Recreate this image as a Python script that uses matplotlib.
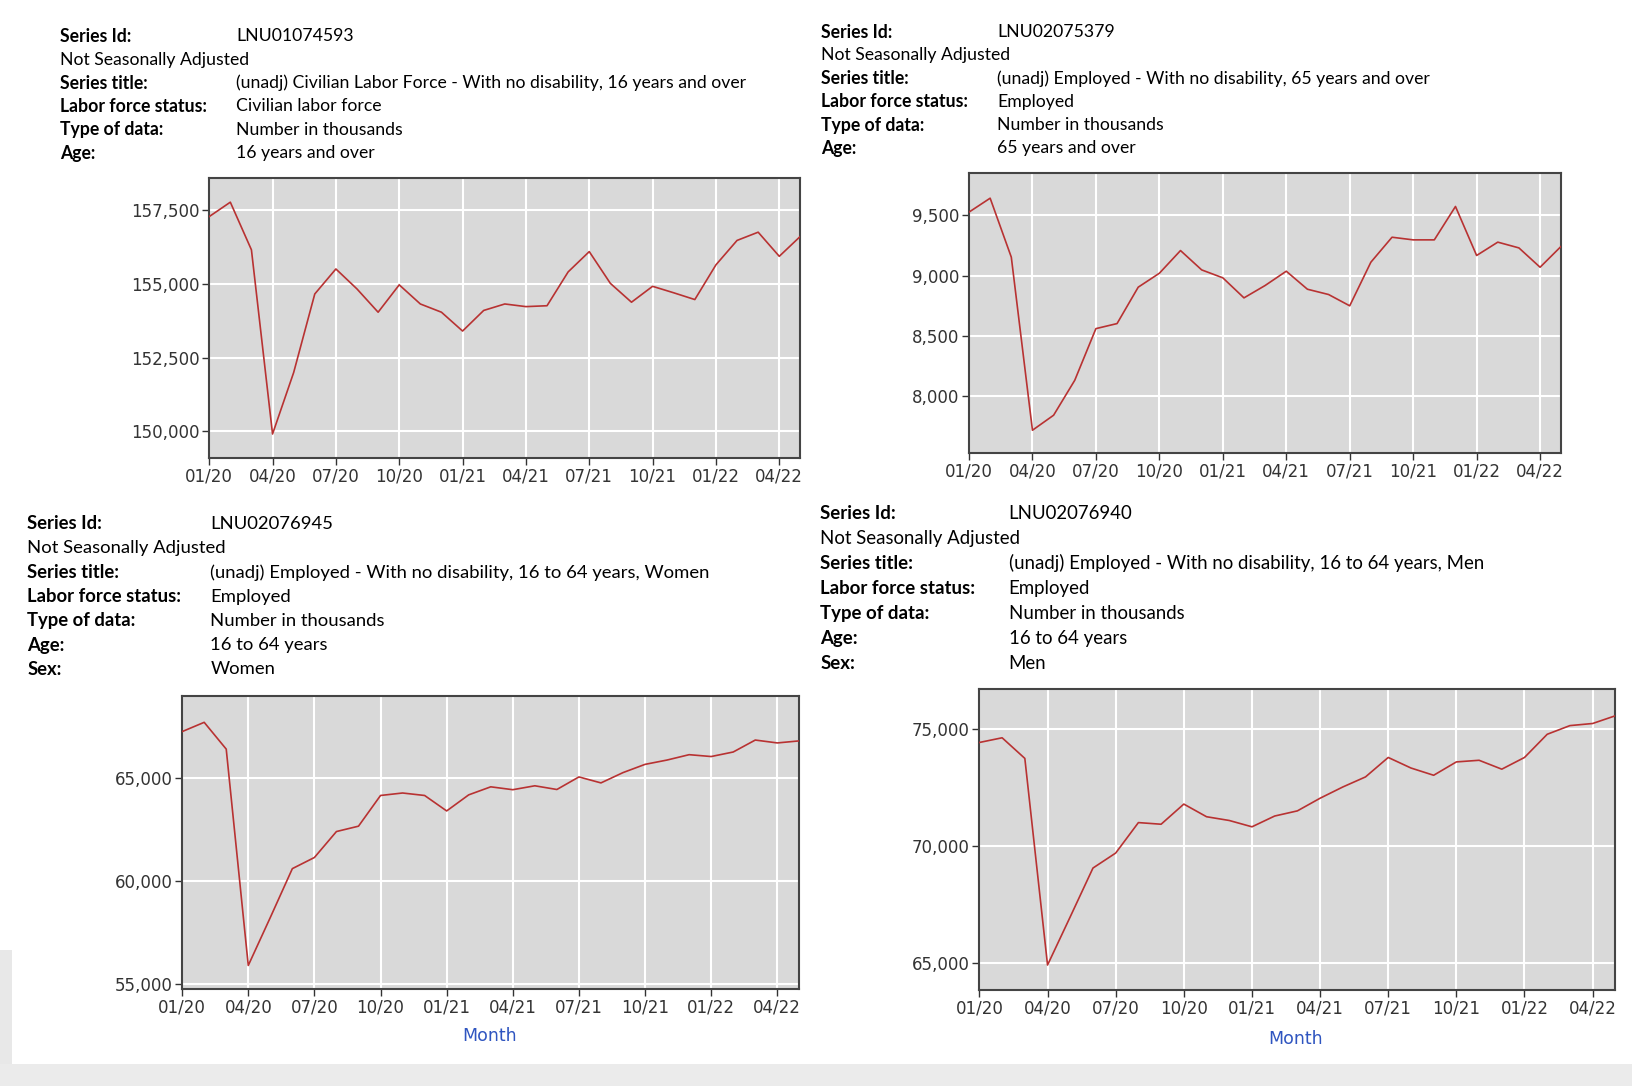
import matplotlib
matplotlib.use('Agg')
import matplotlib.pyplot as plt
from matplotlib.patches import Rectangle

# months Jan 2020 .. May 2022
months = list(range(29))
tick_pos = list(range(0, 28, 3))
tick_labels = ['01/20', '04/20', '07/20', '10/20', '01/21', '04/21',
               '07/21', '10/21', '01/22', '04/22']

# LNU01074593 civilian labor force, no disability, 16+
labor_force = [157290, 157780, 156160, 149900, 151990, 154660, 155510, 154830,
               154040, 154970, 154320, 154040, 153400, 154100, 154320, 154230,
               154260, 155410, 156100, 155020, 154380, 154920, 154700, 154470,
               155650, 156480, 156760, 155940, 156620]

# LNU02075379 employed, no disability, 65+
employed_65 = [9528, 9644, 9153, 7712, 7837, 8128, 8558, 8600, 8903, 9019,
               9208, 9047, 8981, 8814, 8917, 9036, 8886, 8842, 8748, 9111,
               9319, 9297, 9297, 9575, 9167, 9278, 9230, 9069, 9244]

# LNU02076945 employed, no disability, 16-64, women
employed_women = [67250, 67700, 66400, 55900, 58230, 60600, 61140, 62400,
                  62660, 64150, 64270, 64150, 63400, 64180, 64570, 64430,
                  64620, 64440, 65050, 64760, 65260, 65660, 65870, 66130,
                  66040, 66260, 66840, 66700, 66800]

# LNU02076940 employed, no disability, 16-64, men
employed_men = [74420, 74620, 73740, 64920, 66980, 69060, 69700, 71000,
                70930, 71790, 71250, 71090, 70820, 71280, 71500, 72040,
                72520, 72950, 73780, 73330, 73020, 73590, 73660, 73280,
                73780, 74770, 75140, 75230, 75560]

info1 = [('Series Id:', 'LNU01074593'),
         ('Not Seasonally Adjusted', None),
         ('Series title:', '(unadj) Civilian Labor Force - With no disability, 16 years and over'),
         ('Labor force status:', 'Civilian labor force'),
         ('Type of data:', 'Number in thousands'),
         ('Age:', '16 years and over')]
info2 = [('Series Id:', 'LNU02075379'),
         ('Not Seasonally Adjusted', None),
         ('Series title:', '(unadj) Employed - With no disability, 65 years and over'),
         ('Labor force status:', 'Employed'),
         ('Type of data:', 'Number in thousands'),
         ('Age:', '65 years and over')]
info3 = [('Series Id:', 'LNU02076945'),
         ('Not Seasonally Adjusted', None),
         ('Series title:', '(unadj) Employed - With no disability, 16 to 64 years, Women'),
         ('Labor force status:', 'Employed'),
         ('Type of data:', 'Number in thousands'),
         ('Age:', '16 to 64 years'),
         ('Sex:', 'Women')]
info4 = [('Series Id:', 'LNU02076940'),
         ('Not Seasonally Adjusted', None),
         ('Series title:', '(unadj) Employed - With no disability, 16 to 64 years, Men'),
         ('Labor force status:', 'Employed'),
         ('Type of data:', 'Number in thousands'),
         ('Age:', '16 to 64 years'),
         ('Sex:', 'Men')]

W, H = 1568.0, 1043.0  # layout measured on a scaled copy


def fx(x):
    return x / W


def fy(y):
    return 1 - y / H


fig = plt.figure(figsize=(16.32, 10.86), dpi=100)
fig.patch.set_facecolor('white')

# grey page bits at the bottom
fig.patches.append(Rectangle((0, 0), 1, fy(1022), transform=fig.transFigure,
                             facecolor='#ebebeb', edgecolor='none', zorder=-5))
fig.patches.append(Rectangle((0, fy(1022)), fx(12), fy(912) - fy(1022),
                             transform=fig.transFigure, facecolor='#e8e8e8',
                             edgecolor='none', zorder=-5))


def info_block(rows, xl, xv, y0, dy, size):
    for i, (lab, val) in enumerate(rows):
        y = fy(y0 + i * dy)
        if val is None:
            fig.text(fx(xl), y, lab, fontsize=size, family='Lato', va='center')
        else:
            fig.text(fx(xl), y, lab, fontsize=size, family='Lato',
                     fontweight='bold', va='center')
            fig.text(fx(xv), y, val, fontsize=size, family='Lato', va='center')


def chart(box, data, yticks, ylim):
    l, r, t, b = box
    ax = fig.add_axes([fx(l), fy(b), fx(r) - fx(l), fy(t) - fy(b)])
    ax.set_facecolor('#d9d9d9')
    ax.plot(months, data, color='#b83232', lw=1.2, zorder=3)
    ax.set_xlim(0, 28)
    ax.set_ylim(*ylim)
    ax.set_xticks(tick_pos)
    ax.set_xticklabels(tick_labels)
    ax.set_yticks(yticks)
    ax.set_yticklabels(['{:,}'.format(v) for v in yticks])
    ax.grid(True, color='white', lw=1.5)
    ax.set_axisbelow(True)
    for s in ax.spines.values():
        s.set_color('#444444')
        s.set_linewidth(1.5)
    ax.tick_params(length=5, width=1, color='#333333', labelcolor='#333333',
                   labelsize=12, pad=2)
    return ax


info_block(info1, 58, 227, 35, 22.4, 12.7)
info_block(info2, 789, 958, 31, 22.3, 12.7)
info_block(info3, 26, 202, 503, 23.3, 13.3)
info_block(info4, 788, 969, 493, 24.0, 13.4)

chart((201, 769, 171, 440), labor_force, [150000, 152500, 155000, 157500], (149080, 158600))
chart((931, 1500, 166, 435), employed_65, [8000, 8500, 9000, 9500], (7523, 9855))
chart((175, 768, 668, 950), employed_women, [55000, 60000, 65000], (54750, 69000))
chart((941, 1552, 662, 951), employed_men, [65000, 70000, 75000], (63845, 76690))

fig.text(fx(470), fy(995), 'Month', color='#2f55c0', fontsize=12.5, ha='center', va='center')
fig.text(fx(1245), fy(998), 'Month', color='#2f55c0', fontsize=12.5, ha='center', va='center')

fig.savefig('out.png', dpi=100)
